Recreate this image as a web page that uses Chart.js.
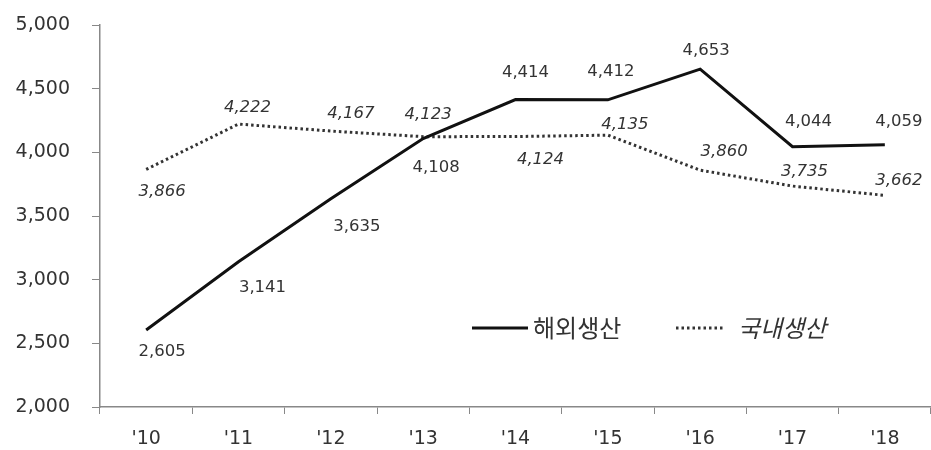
<!DOCTYPE html>
<html>
<head>
<meta charset="utf-8">
<script src="https://cdn.jsdelivr.net/npm/chart.js@4"></script>
<style>
  html, body { margin: 0; padding: 0; background: #fff; }
  #wrap { width: 931px; height: 450px; position: relative; }
</style>
</head>
<body>
<div id="wrap"><canvas id="c"></canvas></div>
<script>
// ---- data ----
const categories = ["'10", "'11", "'12", "'13", "'14", "'15", "'16", "'17", "'18"];
const overseasName = "해외생산";
const domesticName = "국내생산";
const overseas = [2605, 3141, 3635, 4108, 4414, 4412, 4653, 4044, 4059];
const domestic = [3866, 4222, 4167, 4123, 4124, 4135, 3860, 3735, 3662];
const yMin = 2000, yMax = 5000, yStep = 500;

// ---- label placement (style, px offsets from the point) ----
const overseasLabelOffset = [[16,22],[24,26],[26,28],[13,29],[10,-27],[3,-28],[6,-18],[16,-25],[14,-23]];
const domesticLabelOffset = [[16,22],[9,-16],[20,-17],[5,-22],[25,23],[17,-10],[24,-18],[12,-14],[14,-15]];

const fmt = v => v.toLocaleString('en-US');
const numFont = '"DejaVu Sans", sans-serif';
const krFont = '"Noto Sans CJK KR", sans-serif';

const labelPlugin = {
  id: 'pointLabels',
  afterDatasetsDraw(chart) {
    const ctx = chart.ctx;
    ctx.save();
    ctx.textAlign = 'center';
    ctx.textBaseline = 'middle';
    ctx.fillStyle = '#333';
    chart.data.datasets.forEach((ds, di) => {
      const meta = chart.getDatasetMeta(di);
      const offs = ds.labelOffsets;
      ctx.font = (ds.italicLabels ? 'italic ' : '') + '16.5px ' + numFont;
      meta.data.forEach((pt, i) => {
        ctx.fillText(fmt(ds.data[i]), pt.x + offs[i][0], pt.y + offs[i][1]);
      });
    });
    ctx.restore();
  }
};

const legendPlugin = {
  id: 'innerLegend',
  afterDraw(chart) {
    const ctx = chart.ctx;
    const items = [
      { ds: chart.data.datasets[0], x0: 472, x1: 528, tx: 533, italic: false },
      { ds: chart.data.datasets[1], x0: 676, x1: 724, tx: 738, italic: true }
    ];
    const y = 328;
    ctx.save();
    items.forEach(it => {
      ctx.beginPath();
      ctx.strokeStyle = it.ds.borderColor;
      ctx.lineWidth = it.ds.borderWidth;
      ctx.setLineDash(it.ds.borderDash || []);
      ctx.moveTo(it.x0, y);
      ctx.lineTo(it.x1, y);
      ctx.stroke();
      ctx.setLineDash([]);
      ctx.fillStyle = '#333';
      ctx.font = (it.italic ? 'italic ' : '') + '24px ' + krFont;
      ctx.textAlign = 'left';
      ctx.textBaseline = 'middle';
      ctx.fillText(it.ds.label, it.tx, y);
    });
    ctx.restore();
  }
};

new Chart(document.getElementById('c'), {
  type: 'line',
  data: {
    labels: categories,
    datasets: [
      {
        label: overseasName,
        data: overseas,
        borderColor: '#111',
        borderWidth: 3,
        pointRadius: 0,
        tension: 0,
        fill: false,
        labelOffsets: overseasLabelOffset,
        italicLabels: false
      },
      {
        label: domesticName,
        data: domestic,
        borderColor: '#333',
        borderWidth: 3,
        borderDash: [2.5, 3],
        pointRadius: 0,
        tension: 0,
        fill: false,
        labelOffsets: domesticLabelOffset,
        italicLabels: true
      }
    ]
  },
  options: {
    responsive: true,
    maintainAspectRatio: false,
    animation: false,
    devicePixelRatio: 1,
    layout: { padding: 0 },
    plugins: { legend: { display: false }, tooltip: { enabled: false } },
    scales: {
      x: {
        type: 'category',
        offset: true,
        grid: { offset: true, drawOnChartArea: false, drawTicks: true, tickLength: 7, color: '#888', lineWidth: 1 },
        border: { display: true, color: '#888', width: 1.5 },
        ticks: { color: '#333', font: { family: numFont, size: 19 }, padding: 14, maxRotation: 0, autoSkip: false },
        afterFit(scale) { scale.height = 43; }
      },
      y: {
        min: yMin,
        max: yMax,
        grid: { drawOnChartArea: false, drawTicks: true, tickLength: 8, color: '#888', lineWidth: 1 },
        border: { display: true, color: '#888', width: 1.5 },
        ticks: { stepSize: yStep, color: '#333', font: { family: numFont, size: 19 }, padding: 22, callback: v => fmt(v) },
        afterFit(scale) { scale.width = 100; scale.paddingTop = 25; scale.paddingBottom = 0; }
      }
    }
  },
  plugins: [labelPlugin, legendPlugin]
});
</script>
</body>
</html>
